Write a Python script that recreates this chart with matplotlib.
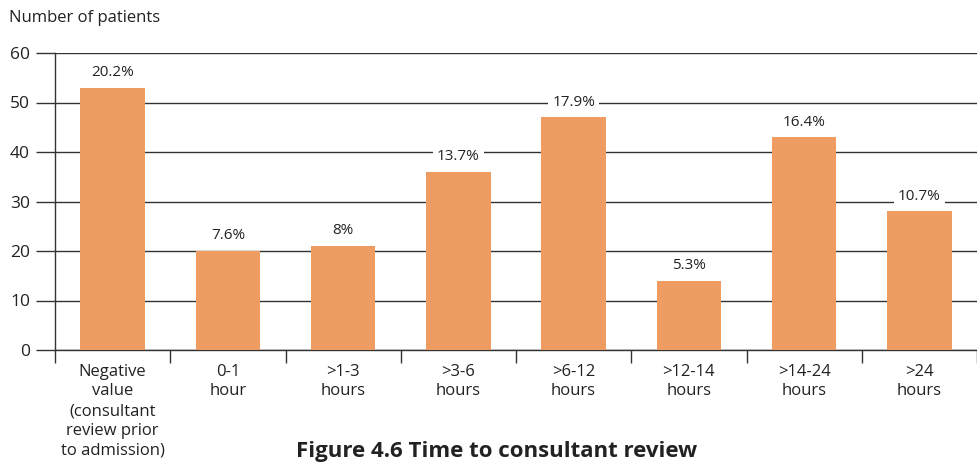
import matplotlib.pyplot as plt
import numpy as np

categories = ["Negative\nvalue\n(consultant\nreview prior\nto admission)", "0-1\nhour", ">1-3\nhours",
              ">3-6\nhours", ">6-12\nhours", ">12-14\nhours", ">14-24\nhours", ">24\nhours"]
patients = [53, 20, 21, 36, 47, 14, 43, 28]
pct_labels = ["20.2%", "7.6%", "8%", "13.7%", "17.9%", "5.3%", "16.4%", "10.7%"]

plt.rcParams['font.family'] = ['Open Sans', 'DejaVu Sans']
txt = "#222222"

fig = plt.figure(figsize=(9.77, 4.68), dpi=100)
ax = fig.add_axes([55 / 977, 118 / 468, 1 - 55 / 977, 297 / 468])

x = np.arange(len(patients))
ax.bar(x, patients, width=0.56, color="#EF9C63", zorder=3)

for xi, v, lab in zip(x, patients, pct_labels):
    ax.annotate(lab, (xi, v), xytext=(0, 5.5), textcoords="offset points",
                ha="center", va="bottom", fontsize=11, color=txt, zorder=4,
                bbox=dict(facecolor="white", edgecolor="none", pad=3))

ax.set_ylim(0, 60)
ax.set_yticks(range(0, 61, 10))
ax.yaxis.grid(True, color="#333333", linewidth=1, zorder=0)
ax.set_axisbelow(True)
ax.tick_params(axis="y", length=14, width=1, color="#333333", labelsize=12.5, labelcolor=txt, pad=4)

ax.set_xlim(-0.5, 7.34)
ax.set_xticks(np.arange(-0.5, 8, 1))
ax.set_xticklabels([])
ax.set_xticks(x, minor=True)
ax.set_xticklabels(categories, minor=True, fontsize=12, color=txt, linespacing=1.3, va="top")
ax.tick_params(axis="x", which="major", length=9.5, width=1, color="#333333")
ax.tick_params(axis="x", which="minor", length=0, pad=10)

for s in ["top", "right"]:
    ax.spines[s].set_visible(False)
for s in ["left", "bottom"]:
    ax.spines[s].set_color("#333333")
    ax.spines[s].set_linewidth(1)

fig.text(9 / 977, 1 - 18 / 468, "Number of patients", fontsize=12, color=txt, va="center", ha="left")
fig.text(497 / 977, 1 - 452 / 468, "Figure 4.6 Time to consultant review", fontsize=16,
         fontweight="bold", color=txt, ha="center", va="center")

fig.savefig("out.png", dpi=100)
